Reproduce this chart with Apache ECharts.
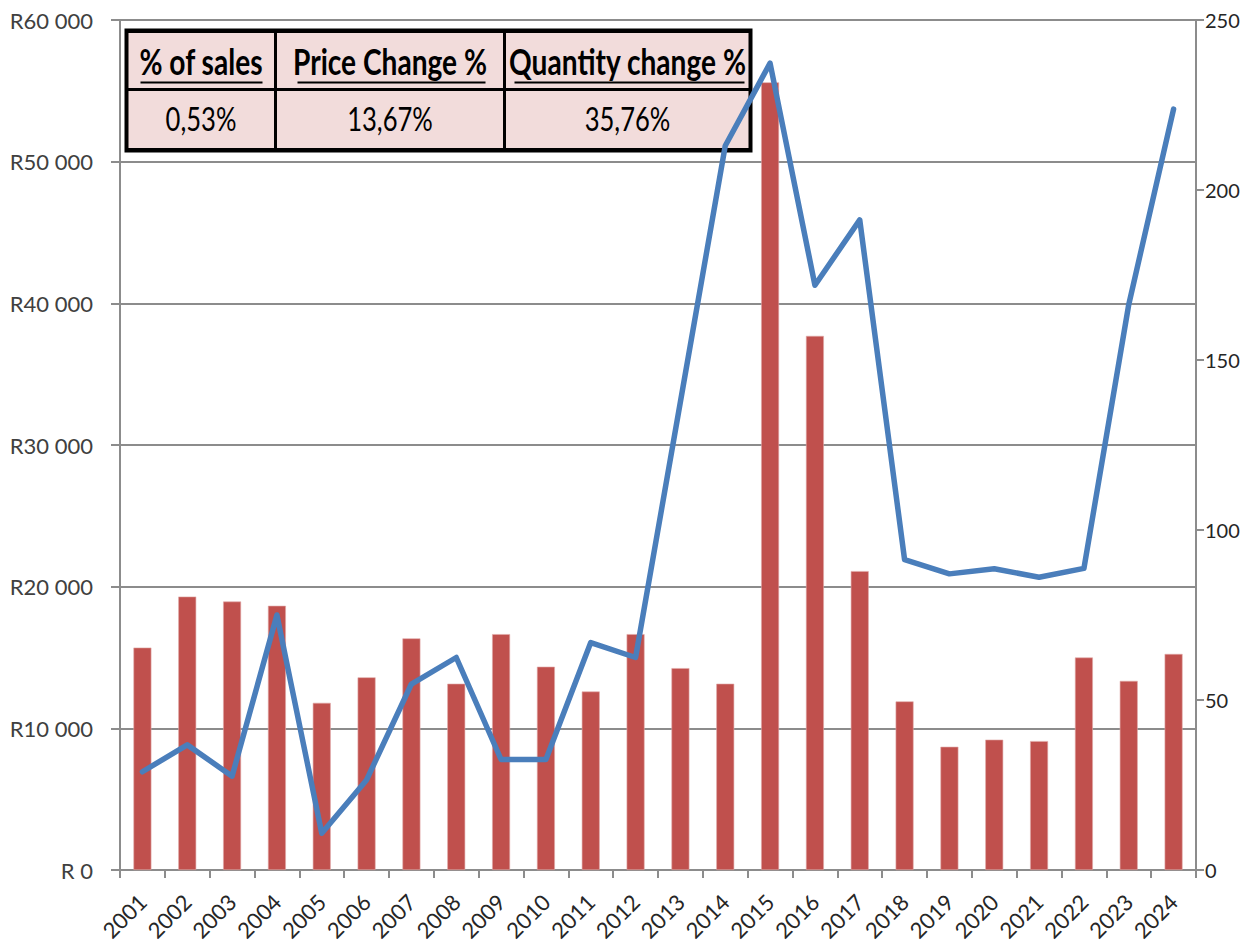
<!DOCTYPE html>
<html>
<head>
<meta charset="utf-8">
<script src="https://cdn.jsdelivr.net/npm/echarts@6/dist/echarts.min.js"></script>
<style>
    html, body { margin: 0; padding: 0; background: #fff; overflow: hidden; }
    #chart { width: 1242px; height: 947px; }
</style>
</head>
<body>
<div id="chart"></div>
<script>
const years = ["2001", "2002", "2003", "2004", "2005", "2006", "2007", "2008", "2009", "2010", "2011", "2012",
    "2013", "2014", "2015", "2016", "2017", "2018", "2019", "2020", "2021", "2022", "2023", "2024"];
// bars, left axis (Rand)
const salesValues = [15700, 19300, 18950, 18650, 11800, 13600, 16350, 13150, 16650, 14350, 12600, 16650,
    14250, 13150, 55600, 37700, 21100, 11900, 8700, 9200, 9100, 15000, 13350, 15250];
// line, right axis
const quantityValues = [28.9, 36.8, 27.6, 75, 10.8, 26.5, 54.7, 62.5, 32.5, 32.5, 66.9, 62.5,
    137.7, 213, 237.3, 172, 191.2, 91.3, 87.1, 88.6, 86.1, 88.7, 166.3, 223.8];

const tableHeaders = ["% of sales", "Price Change %", "Quantity change %"];
const tableValues = ["0,53%", "13,67%", "35,76%"];

const axisGray = "#8c8c8c";
const labelColor = "#262626";
const fontFamily = "Lato, 'Liberation Sans', sans-serif";

const chart = echarts.init(document.getElementById("chart"), null, { renderer: "svg" });

// table box in the top-left corner of the plot
const tableLeft = 124, tableTop = 28;
const colEdges = [0, 149, 378, 624];
const rowSplit = 59, tableH = 120;
const underlines = [[14, 136], [171, 359], [388, 618]];

const tableChildren = [
    { type: "rect", shape: { x: 0, y: 0, width: colEdges[3], height: tableH },
      style: { fill: "#f2dcdb", stroke: "#000", lineWidth: 4 } },
    { type: "line", shape: { x1: 0, y1: 1, x2: colEdges[3], y2: 1 }, style: { stroke: "#000", lineWidth: 3 } },
    { type: "line", shape: { x1: 0, y1: rowSplit, x2: colEdges[3], y2: rowSplit }, style: { stroke: "#000", lineWidth: 3 } },
    { type: "line", shape: { x1: colEdges[1], y1: 0, x2: colEdges[1], y2: tableH }, style: { stroke: "#000", lineWidth: 3 } },
    { type: "line", shape: { x1: colEdges[2], y1: 0, x2: colEdges[2], y2: tableH }, style: { stroke: "#000", lineWidth: 3 } },
    { type: "line", shape: { x1: 0, y1: tableH - 1, x2: colEdges[3], y2: tableH - 1 }, style: { stroke: "#000", lineWidth: 3 } },
];
tableHeaders.forEach((h, i) => {
    const cx = (colEdges[i] + colEdges[i + 1]) / 2;
    tableChildren.push({
        type: "text", x: cx, y: 30, scaleX: 0.76,
        style: { text: h, fill: "#000", font: "bold 37px " + fontFamily, align: "center", verticalAlign: "middle" },
    });
    tableChildren.push({
        type: "line", shape: { x1: underlines[i][0], y1: 52, x2: underlines[i][1], y2: 52 },
        style: { stroke: "#000", lineWidth: 2 },
    });
});
tableValues.forEach((v, i) => {
    const cx = (colEdges[i] + colEdges[i + 1]) / 2;
    tableChildren.push({
        type: "text", x: cx, y: 88, scaleX: 0.8,
        style: { text: v, fill: "#000", font: "32px " + fontFamily, align: "center", verticalAlign: "middle" },
    });
});

const option = {
    animation: false,
    textStyle: { fontFamily: fontFamily },
    grid: { left: 120, right: 46, top: 20, bottom: 77, containLabel: false, outerBoundsMode: "none" },
    xAxis: {
        type: "category",
        data: years,
        axisLine: { lineStyle: { color: axisGray, width: 2 } },
        axisTick: { show: true, length: 8, lineStyle: { color: axisGray, width: 2 } },
        axisLabel: { rotate: 45, margin: 28, fontSize: 22, color: labelColor, interval: 0 },
    },
    yAxis: [
        {
            type: "value",
            min: 0,
            max: 60000,
            interval: 10000,
            axisLine: { show: true, lineStyle: { color: axisGray, width: 2 } },
            axisTick: { show: true, length: 9, lineStyle: { color: axisGray, width: 2 } },
            axisLabel: {
                margin: 27,
                fontSize: 22,
                color: "#404040",
                formatter: (v) => (v === 0 ? "R 0" : "R" + v / 1000 + " 000"),
            },
            splitLine: { show: true, lineStyle: { color: axisGray, width: 2 } },
        },
        {
            type: "value",
            position: "right",
            min: 0,
            max: 250,
            interval: 50,
            axisLine: { show: true, lineStyle: { color: axisGray, width: 2 } },
            axisTick: { show: true, length: 8, lineStyle: { color: axisGray, width: 2 } },
            axisLabel: { margin: 9, fontSize: 20, color: labelColor },
            splitLine: { show: false },
        },
    ],
    series: [
        {
            name: "Sales",
            type: "bar",
            data: salesValues,
            barWidth: "40%",
            itemStyle: { color: "#c0504d", borderColor: "#e0a9a8", borderWidth: 0.6 },
        },
        {
            name: "Quantity",
            type: "line",
            yAxisIndex: 1,
            data: quantityValues,
            symbol: "none",
            lineStyle: { color: "#4a7ebb", width: 5.5, cap: "round", join: "round" },
        },
    ],
    graphic: [
        { type: "group", left: tableLeft, top: tableTop, z: 100, children: tableChildren },
    ],
};

chart.setOption(option);
</script>
</body>
</html>
